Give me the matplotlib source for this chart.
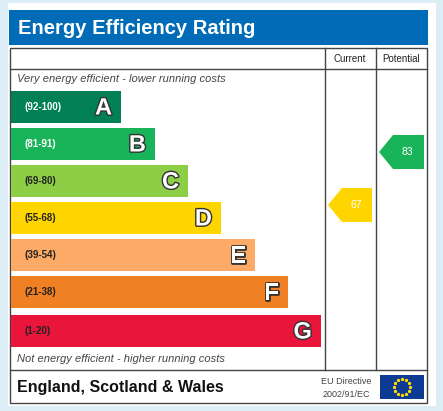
import matplotlib
matplotlib.use("Agg")
from matplotlib import pyplot as plt
from matplotlib.patches import Rectangle, Polygon
import matplotlib.patheffects as pe
import numpy as np

letters = ["A", "B", "C", "D", "E", "F", "G"]
ranges = ["(92-100)", "(81-91)", "(69-80)", "(55-68)", "(39-54)", "(21-38)", "(1-20)"]
colors = ["#008054", "#19b459", "#8dce46", "#ffd500", "#fcaa65", "#ef8023", "#e9153b"]
bar_ends = [121, 155, 188, 221, 255, 288, 321]
current = 67
potential = 83

def band_of(score):
    lows = [92, 81, 69, 55, 39, 21, 1]
    for i, lo in enumerate(lows):
        if score >= lo:
            return i
    return 6

W, H = 443, 411
fig = plt.figure(figsize=(W / 100, H / 100), dpi=100)
ax = fig.add_axes([0, 0, 1, 1])
ax.set_xlim(0, W)
ax.set_ylim(H, 0)
ax.axis("off")
fig.patch.set_facecolor("#dcedf5")

ax.add_patch(Rectangle((8, 3), 428, 403, facecolor="white", edgecolor="none"))
ax.add_patch(Rectangle((9, 10), 419, 35, facecolor="#006bb6", edgecolor="none"))
ax.text(18, 28, "Energy Efficiency Rating", color="white", fontsize=14.5,
        fontweight="bold", va="center", family="Liberation Sans")

lc = "#444444"
ax.add_patch(Rectangle((10, 48), 417, 355, facecolor="none", edgecolor=lc, lw=1))
ax.plot([10, 427], [69, 69], color=lc, lw=1)
ax.plot([10, 427], [370, 370], color=lc, lw=1)
ax.plot([325, 325], [48, 370], color=lc, lw=1)
ax.plot([376, 376], [48, 370], color=lc, lw=1)
ax.text(350, 59, "Current", fontsize=7, ha="center", va="center", family="Liberation Sans", color="#222222")
ax.text(401, 59, "Potential", fontsize=7, ha="center", va="center", family="Liberation Sans", color="#222222")
ax.text(17, 79, "Very energy efficient - lower running costs", fontsize=8, style="italic",
        va="center", color="#444444", family="Liberation Sans")
ax.text(17, 359, "Not energy efficient - higher running costs", fontsize=8, style="italic",
        va="center", color="#444444", family="Liberation Sans")

tops = [91, 128, 165, 202, 239, 276, 315]
for i in range(7):
    y0 = tops[i]
    ax.add_patch(Rectangle((11, y0), bar_ends[i] - 11, 32, facecolor=colors[i], edgecolor="none"))
    tc = "white" if i < 2 else "#222222"
    ax.text(25, y0 + 16, ranges[i], fontsize=7, fontweight="bold", va="center",
            color=tc, family="Liberation Sans")
    ax.text(bar_ends[i] - 9, y0 + 17, letters[i], fontsize=17, fontweight="bold", ha="right",
            va="center", color="white", family="Liberation Sans",
            path_effects=[pe.withStroke(linewidth=2, foreground="#333333")])

def arrow(x0, x1, score):
    i = band_of(score)
    yc = 152 + (83 - score) * 3.31
    h = 17
    pts = [(x0, yc), (x0 + 14, yc - h), (x1, yc - h), (x1, yc + h), (x0 + 14, yc + h)]
    ax.add_patch(Polygon(pts, closed=True, facecolor=colors[i], edgecolor="none"))
    ax.text(x0 + 28, yc, str(score), fontsize=7.5, ha="center", va="center", color="white",
            family="Liberation Sans")

arrow(328, 372, current)
arrow(379, 424, potential)

ax.text(17, 387, "England, Scotland & Wales", fontsize=11.5, fontweight="bold", va="center",
        color="#111111", family="Liberation Sans")
ax.text(346, 381, "EU Directive", fontsize=6.5, ha="center", va="center", color="#444444", family="Liberation Sans")
ax.text(346, 394, "2002/91/EC", fontsize=6.5, ha="center", va="center", color="#444444", family="Liberation Sans")
ax.add_patch(Rectangle((380, 375), 44, 24, facecolor="#0d3b94", edgecolor="none"))
ang = np.linspace(0, 2 * np.pi, 13)[:-1]
ax.scatter(402 + 8 * np.cos(ang), 387 + 8 * np.sin(ang), s=2.5, color="#ffdd00", marker="*")

fig.savefig("out.png", dpi=100, facecolor=fig.get_facecolor())
